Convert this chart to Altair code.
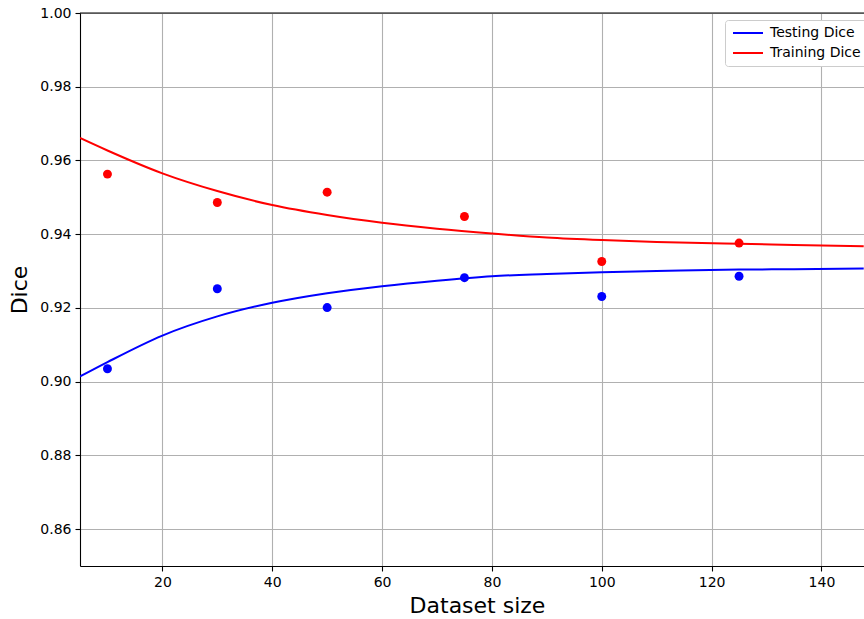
import altair as alt
import pandas as pd

# Observed points
sizes = [10, 30, 50, 75, 100, 125]
test_dice = [0.9035, 0.9252, 0.9201, 0.9282, 0.9231, 0.9286]
train_dice = [0.9563, 0.9486, 0.9514, 0.9448, 0.9326, 0.9376]

# Fitted curves
curve_x = [5, 10, 20, 30, 40, 50, 60, 70, 80, 90, 100, 110, 125, 135, 147.7]
test_fit = [0.9014, 0.9053, 0.9125, 0.9177, 0.9214, 0.9240, 0.9259, 0.9274,
            0.9286, 0.9292, 0.9297, 0.9300, 0.9304, 0.9305, 0.9307]
train_fit = [0.9661, 0.9627, 0.9565, 0.9517, 0.9479, 0.9452, 0.9431, 0.9415,
             0.9402, 0.9391, 0.9384, 0.9379, 0.9374, 0.9371, 0.9367]

series = ["Testing Dice", "Training Dice"]
colors = ["blue", "red"]
y_ticks = [0.86, 0.88, 0.90, 0.92, 0.94, 0.96, 0.98, 1.00]
x_ticks = [20, 40, 60, 80, 100, 120, 140]

lines_df = pd.DataFrame({
    "x": curve_x + curve_x,
    "y": test_fit + train_fit,
    "series": [series[0]] * len(curve_x) + [series[1]] * len(curve_x),
})
pts_df = pd.DataFrame({
    "x": sizes + sizes,
    "y": test_dice + train_dice,
    "col": [colors[0]] * len(sizes) + [colors[1]] * len(sizes),
})

xs = alt.Scale(domain=[5, 147.75], nice=False, zero=False)
ys = alt.Scale(domain=[0.85, 1.0], nice=False, zero=False)

x_axis = alt.Axis(values=x_ticks, title="Dataset size", grid=True,
                  titleX=397, titleAnchor="middle")
y_axis = alt.Axis(values=y_ticks, format=".2f", title="Dice", grid=True)

lines = alt.Chart(lines_df).mark_line(strokeWidth=2, clip=True, interpolate="monotone").encode(
    x=alt.X("x:Q", scale=xs, axis=x_axis),
    y=alt.Y("y:Q", scale=ys, axis=y_axis),
    color=alt.Color("series:N", scale=alt.Scale(domain=series, range=colors),
                    legend=alt.Legend(title=None)),
)

points = alt.Chart(pts_df).mark_circle(size=80, opacity=1).encode(
    x=alt.X("x:Q", scale=xs),
    y=alt.Y("y:Q", scale=ys),
    color=alt.Color("col:N", scale=None),
)

top = alt.Chart(pd.DataFrame({"v": [1.0]})).mark_rule(color="black", strokeWidth=1.1).encode(
    y=alt.Y("v:Q", scale=ys)
)

chart = alt.layer(lines, points, top).properties(
    width=784, height=553,
    autosize=alt.AutoSizeParams(type="none"),
    padding={"left": 80, "top": 13, "right": 0, "bottom": 53},
).configure_view(stroke=None).configure_axis(
    domainColor="black", domainWidth=1.1, tickColor="black", tickSize=5, tickWidth=1.1,
    gridColor="#b0b0b0", gridWidth=1.1,
    labelFont="DejaVu Sans", labelFontSize=14, labelColor="black", labelPadding=4,
    titleFont="DejaVu Sans", titleFontSize=22, titleFontWeight="normal", titleColor="black",
).configure_axisX(titlePadding=6).configure_axisY(titlePadding=8).configure_legend(
    orient="none", legendX=645, legendY=7,
    symbolType="M-1,0H5", symbolSize=100, symbolStrokeWidth=2,
    labelFont="DejaVu Sans", labelFontSize=14, labelColor="black", labelOffset=25,
    rowPadding=6, padding=6, strokeColor="#cccccc", fillColor="white", cornerRadius=3,
)

chart.save("out.html", embed_options={"renderer": "svg", "actions": False})
